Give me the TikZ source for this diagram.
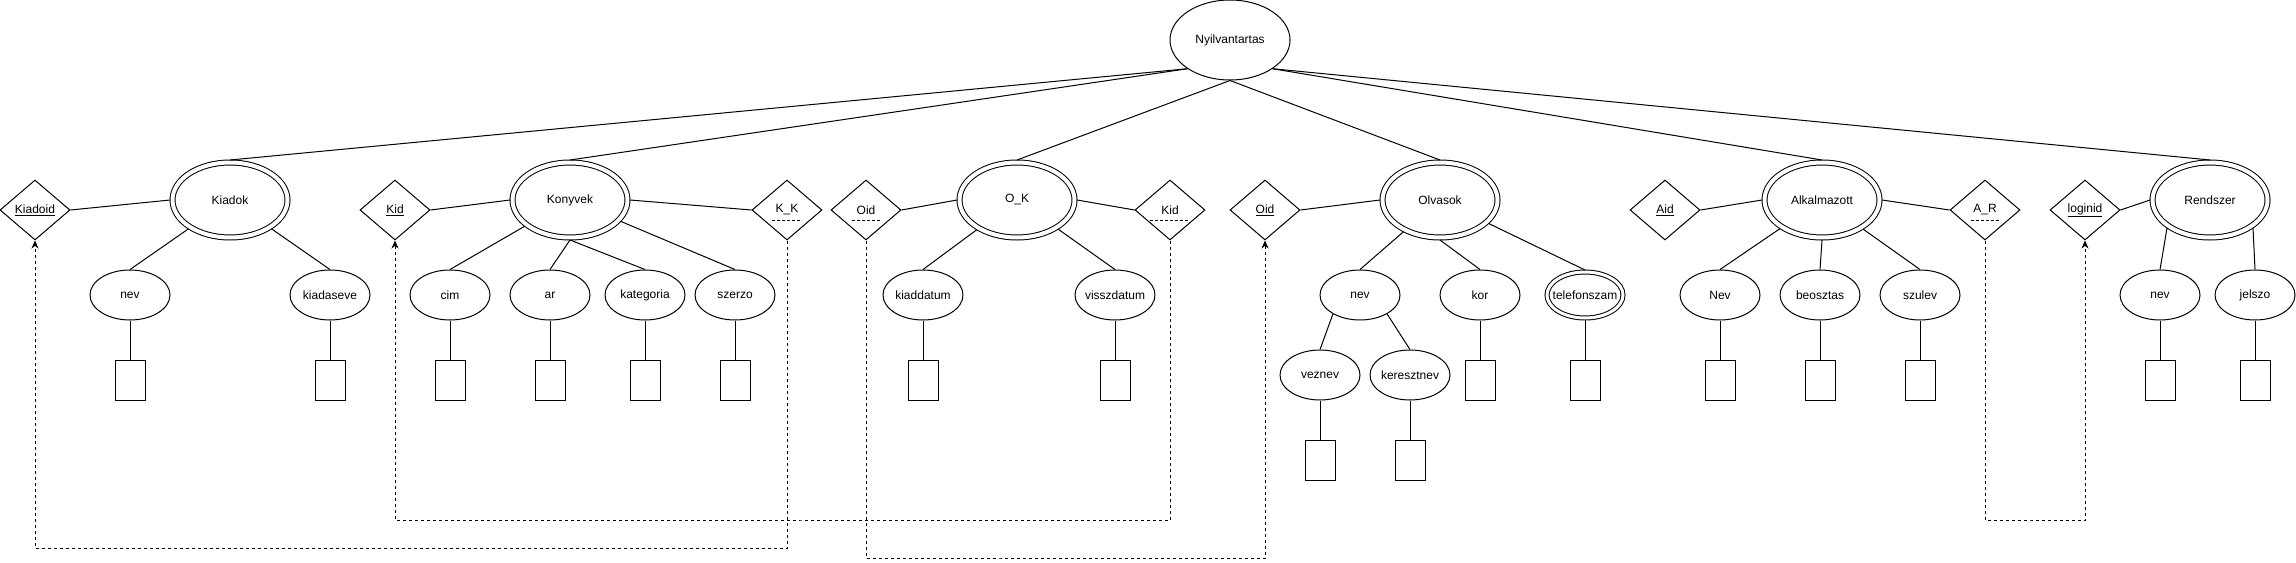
\documentclass[tikz,border=0pt]{standalone}
\usepackage{fontspec}
\setmainfont{Liberation Sans}
\usetikzlibrary{%
  arrows.meta,%
  shapes,%
  shapes.geometric,% wg. ellipse, diamond
  positioning,%
  calc%
}

\begin{document}
\begin{tikzpicture}
  [
  x=1pt, y=-1pt,
  font=\fontsize{12}{14}\selectfont, line width=1pt, draw=black, >={Stealth[length=8pt,width=7pt]},
  central/.style={ellipse, minimum width=120pt, minimum height=80pt, draw=black, inner sep=0pt},
  entity/.style={ellipse, minimum width=115pt, minimum height=75pt, draw=black, double, double distance=4pt, inner sep=0pt, outer sep=2.5pt},
  attr/.style={ellipse, minimum width=80pt, minimum height=50pt, draw=black, inner sep=0pt},
  multiattr/.style={attr, minimum width=76pt, minimum height=46pt, double, double distance=3pt, outer sep=2pt},
  keynode/.style={diamond, minimum width=70pt, minimum height=60pt, draw=black, inner sep=0pt},
  slot/.style={rectangle, minimum width=30pt, minimum height=40pt, draw=black, inner sep=0pt},
  fk/.style={dash pattern=on 3pt off 3pt, line width=0.8pt}
  ]
\useasboundingbox (0,0) rectangle (2296,562);

\node[central] (nyilv) at (1230,40) {Nyilvantartas};

% entities
\node[entity] (kiadok) at (230,200) {Kiadok};
\node[entity] (konyvek) at (570,200) {Konyvek};
\node[entity] (ok) at (1017,200) {O\_K};
\node[entity] (olvasok) at (1440,200) {Olvasok};
\node[entity] (alkalm) at (1822,200) {Alkalmazott};
\node[entity] (rendszer) at (2210,200) {Rendszer};

% keys
\node[keynode] (kiadoid) at (35,210) {\underline{Kiadoid}};
\node[keynode] (kid) at (395,210) {\underline{Kid}};
\node[keynode] (kk) at (787,210) {K\_K};
\node[keynode] (okoid) at (866,210) {Oid};
\node[keynode] (okkid) at (1170,210) {Kid};
\node[keynode] (oid) at (1265,210) {\underline{Oid}};
\node[keynode] (aid) at (1665,210) {\underline{Aid}};
\node[keynode] (alkr) at (1985,210) {A\_R};
\node[keynode] (loginid) at (2085,210) {\underline{loginid}};

\foreach \k/\w in {kk/15, okoid/14, okkid/20, alkr/14} {
  \draw[dash pattern=on 3pt off 2pt, line width=0.8pt] ([xshift=-\w pt, yshift=-10pt]\k.center) -- ([xshift=\w pt, yshift=-10pt]\k.center);
}

% attributes with slots
\foreach \a/\x/\t/\s in {knev/130/nev/attr, kiadaseve/330/kiadaseve/attr, cim/450/cim/attr, ar/550/ar/attr, kategoria/645/kategoria/attr, szerzo/735/szerzo/attr, kiaddatum/923/kiaddatum/attr, visszdatum/1115/visszdatum/attr, kor/1480/kor/attr, telefon/1585/telefonszam/multiattr, anev/1720/Nev/attr, beosztas/1820/beosztas/attr, szulev/1920/szulev/attr, rnev/2160/nev/attr, jelszo/2255/jelszo/attr} {
  \node[\s] (\a) at (\x,295) {\makebox[0pt]{\t}};
  \node[slot] (b\a) at (\x,380) {};
  \draw (\a) -- (b\a);
}

\node[attr] (onev) at (1360,295) {nev};
\foreach \a/\x/\t in {veznev/1320/veznev, kereszt/1410/keresztnev} {
  \node[attr] (\a) at (\x,375) {\makebox[0pt]{\t}};
  \node[slot] (b\a) at (\x,460) {};
  \draw (\a) -- (b\a);
}

% entity - attribute
\foreach \e/\a in {kiadok/knev, kiadok/kiadaseve, konyvek/cim, konyvek.south/ar, konyvek.south/kategoria, konyvek/szerzo, ok/kiaddatum, ok/visszdatum, olvasok/onev, olvasok.south/kor, olvasok/telefon, alkalm/anev, alkalm.south/beosztas, alkalm/szulev, rendszer.213/rnev, rendszer.327/jelszo, onev.215/veznev, onev.325/kereszt} {
  \draw (\e) -- (\a.north);
}

% entity - key
\foreach \k/\e in {kiadoid/kiadok, kid/konyvek, okoid/ok, oid/olvasok, aid/alkalm, loginid/rendszer} {
  \draw (\k.east) -- (\e.west);
}
\foreach \e/\k in {konyvek/kk, ok/okkid, alkalm/alkr} {
  \draw (\e.east) -- (\k.west);
}

% root
\draw (nyilv.214) -- (kiadok.north);
\draw (nyilv.214) -- (konyvek.north);
\draw (nyilv.south) -- (ok.north);
\draw (nyilv.south) -- (olvasok.north);
\draw (nyilv.326) -- (alkalm.north);
\draw (nyilv.326) -- (rendszer.north);

% foreign keys
\coordinate (busA) at (400,548);
\coordinate (busB) at (800,520);
\coordinate (busC) at (1000,558);
\coordinate (busD) at (2030,520);
\draw[fk,->] (kk.south) |- (busA) -| (kiadoid.south);
\draw[fk,->] (okkid.south) |- (busB) -| (kid.south);
\draw[fk,->] (okoid.south) |- (busC) -| (oid.south);
\draw[fk,->] (alkr.south) |- (busD) -| (loginid.south);
\end{tikzpicture}
\end{document}
